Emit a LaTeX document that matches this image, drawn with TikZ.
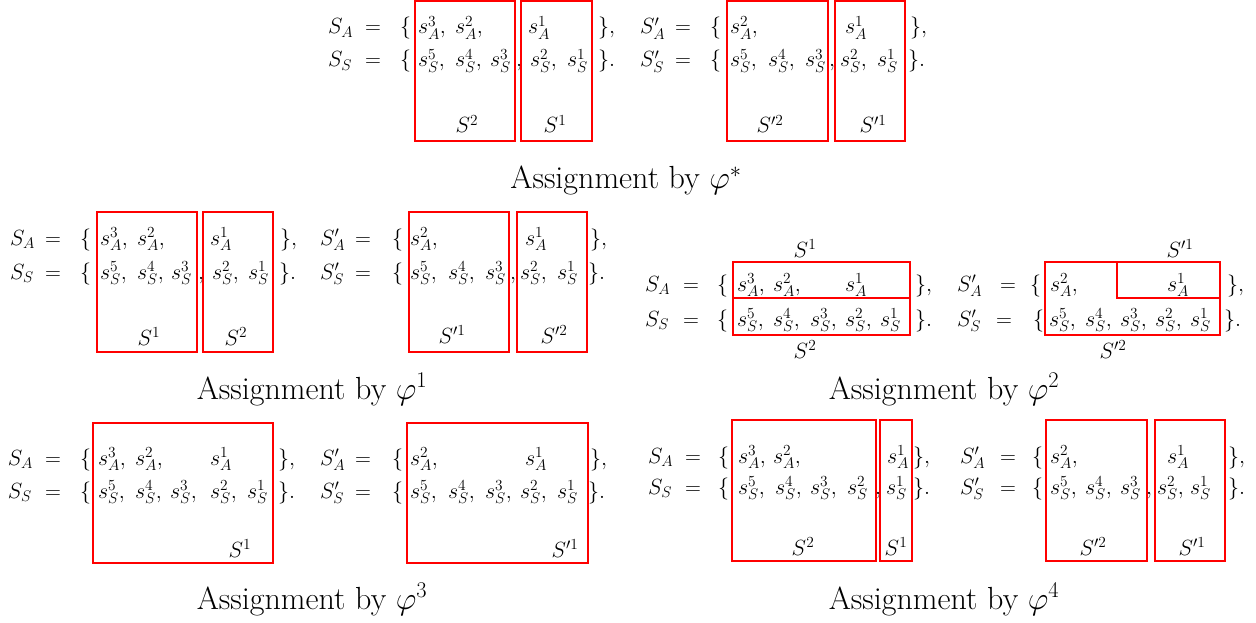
\RequirePackage{fix-cm}
\documentclass[tikz,border=0pt]{standalone}
\begin{document}
\begin{tikzpicture}[x=1pt,y=-1pt,
  txt/.style={anchor=base west,inner sep=0pt,outer sep=0pt,font=\fontsize{22}{26}\selectfont},
  lab/.style={anchor=base,inner sep=0pt,outer sep=0pt,font=\fontsize{22}{26}\selectfont},
  captxt/.style={anchor=base,inner sep=0pt,outer sep=0pt,font=\fontsize{32}{38}\selectfont},
  redbox/.style={draw=red,line width=2pt}]
\newcommand\myE[4]{\node[txt] (#1) at (#2,#3) {$#4$};}
\newcommand\myL[4]{\node[lab] (#1) at (#2,#3) {$#4$};}
\useasboundingbox (0,0) rectangle (1256,623);
% ================= phi* =================
\myE{aLA}{328}{34}{S_A} \myE{aEA}{365}{34}{=} \myE{aOA}{400}{34}{\{}
\myE{aA3}{418}{34}{s_A^3,} \myE{aA2}{455}{34}{s_A^2,} \myE{aA1}{528}{34}{s_A^1} \myE{aCA}{598}{34}{\},}
\myE{aLS}{328}{67}{S_S} \myE{aES}{365}{67}{=} \myE{aOS}{400}{67}{\{}
\myE{aS5}{418}{67}{s_S^5,} \myE{aS4}{455}{67}{s_S^4,} \myE{aS3}{490}{67}{s_S^3} \myE{aK}{516}{67}{,}
\myE{aS2}{530}{67}{s_S^2,} \myE{aS1}{567}{67}{s_S^1} \myE{aCS}{598}{67}{\}.}
\draw[redbox] (415,1) rectangle (515,141);
\draw[redbox] (521,1) rectangle (592,141);
\myL{aT2}{467}{133}{S^2} \myL{aT1}{555}{133}{S^1}
\myE{bLA}{640}{34}{S'_A} \myE{bEA}{675}{34}{=} \myE{bOA}{710}{34}{\{}
\myE{bA2}{730}{34}{s_A^2,} \myE{bA1}{845}{34}{s_A^1} \myE{bCA}{910}{34}{\},}
\myE{bLS}{640}{67}{S'_S} \myE{bES}{675}{67}{=} \myE{bOS}{710}{67}{\{}
\myE{bS5}{730}{67}{s_S^5,} \myE{bS4}{768}{67}{s_S^4,} \myE{bS3}{805}{67}{s_S^3} \myE{bK}{829}{67}{,}
\myE{bS2}{840}{67}{s_S^2,} \myE{bS1}{877}{67}{s_S^1} \myE{bCS}{908}{67}{\}.}
\draw[redbox] (727,1) rectangle (828,141);
\draw[redbox] (835,1) rectangle (905,141);
\myL{bT2}{770}{133}{S'^2} \myL{bT1}{873}{133}{S'^1}
\node[captxt] (capa) at (626,189) {Assignment by $\varphi^*$};
% ================= phi1 =================
\myE{cLA}{10}{245}{S_A} \myE{cEA}{45}{245}{=} \myE{cOA}{80}{245}{\{}
\myE{cA3}{100}{245}{s_A^3,} \myE{cA2}{137}{245}{s_A^2,} \myE{cA1}{210}{245}{s_A^1} \myE{cCA}{280}{245}{\},}
\myE{cLS}{10}{279}{S_S} \myE{cES}{45}{279}{=} \myE{cOS}{80}{279}{\{}
\myE{cS5}{100}{279}{s_S^5,} \myE{cS4}{137}{279}{s_S^4,} \myE{cS3}{171}{279}{s_S^3} \myE{cK}{198}{279}{,}
\myE{cS2}{212}{279}{s_S^2,} \myE{cS1}{248}{279}{s_S^1} \myE{cCS}{279}{279}{\}.}
\draw[redbox] (97,212) rectangle (197,352);
\draw[redbox] (203,212) rectangle (273,352);
\myL{cT1}{149}{345}{S^1} \myL{cT2}{236}{345}{S^2}
\myE{dLA}{320}{245}{S'_A} \myE{dEA}{355}{245}{=} \myE{dOA}{392}{245}{\{}
\myE{dA2}{410}{245}{s_A^2,} \myE{dA1}{525}{245}{s_A^1} \myE{dCA}{590}{245}{\},}
\myE{dLS}{320}{279}{S'_S} \myE{dES}{355}{279}{=} \myE{dOS}{392}{279}{\{}
\myE{dS5}{410}{279}{s_S^5,} \myE{dS4}{448}{279}{s_S^4,} \myE{dS3}{485}{279}{s_S^3} \myE{dK}{510}{279}{,}
\myE{dS2}{520}{279}{s_S^2,} \myE{dS1}{557}{279}{s_S^1} \myE{dCS}{588}{279}{\}.}
\draw[redbox] (409,212) rectangle (509,352);
\draw[redbox] (517,212) rectangle (587,352);
\myL{dT1}{452}{343}{S'^1} \myL{dT2}{554}{343}{S'^2}
\node[captxt] (capc) at (312,399) {Assignment by $\varphi^1$};
% ================= phi2 =================
\myE{eLA}{645}{291}{S_A} \myE{eEA}{683}{291}{=} \myE{eOA}{717}{291}{\{}
\myE{eA3}{737}{291}{s_A^3,} \myE{eA2}{773}{291}{s_A^2,} \myE{eA1}{845}{291}{s_A^1} \myE{eCA}{915}{291}{\},}
\myE{eLS}{645}{326}{S_S} \myE{eES}{683}{326}{=} \myE{eOS}{717}{326}{\{}
\myE{eS5}{737}{326}{s_S^5,} \myE{eS4}{773}{326}{s_S^4,} \myE{eS3}{810}{326}{s_S^3,}
\myE{eS2}{845}{326}{s_S^2,} \myE{eS1}{880}{326}{s_S^1} \myE{eCS}{915}{326}{\}.}
\draw[redbox] (733,262) rectangle (910,298);
\draw[redbox] (733,298) rectangle (910,335);
\myL{eT1}{805}{257}{S^1} \myL{eT2}{805}{358}{S^2}
\myE{fLA}{957}{291}{S'_A} \myE{fEA}{1000}{291}{=} \myE{fOA}{1030}{291}{\{}
\myE{fA2}{1050}{291}{s_A^2,} \myE{fA1}{1167}{291}{s_A^1} \myE{fCA}{1227}{291}{\},}
\myE{fLS}{957}{326}{S'_S} \myE{fES}{996}{326}{=} \myE{fOS}{1033}{326}{\{}
\myE{fS5}{1049}{326}{s_S^5,} \myE{fS4}{1085}{326}{s_S^4,} \myE{fS3}{1120}{326}{s_S^3,}
\myE{fS2}{1155}{326}{s_S^2,} \myE{fS1}{1190}{326}{s_S^1} \myE{fCS}{1224}{326}{\}.}
\draw[redbox] (1045,262) rectangle (1220,335);
\draw[redbox] (1117,262) rectangle (1220,298);
\myL{fT1}{1180}{257}{S'^1} \myL{fT2}{1113}{358}{S'^2}
\node[captxt] (cape) at (944,399) {Assignment by $\varphi^2$};
% ================= phi3 =================
\myE{gLA}{8}{465}{S_A} \myE{gEA}{45}{465}{=} \myE{gOA}{80}{465}{\{}
\myE{gA3}{98}{465}{s_A^3,} \myE{gA2}{135}{465}{s_A^2,} \myE{gA1}{210}{465}{s_A^1} \myE{gCA}{278}{465}{\},}
\myE{gLS}{8}{498}{S_S} \myE{gES}{45}{498}{=} \myE{gOS}{80}{498}{\{}
\myE{gS5}{98}{498}{s_S^5,} \myE{gS4}{135}{498}{s_S^4,} \myE{gS3}{170}{498}{s_S^3,}
\myE{gS2}{210}{498}{s_S^2,} \myE{gS1}{247}{498}{s_S^1} \myE{gCS}{278}{498}{\}.}
\draw[redbox] (93,423) rectangle (273,563);
\myL{gT1}{240}{557}{S^1}
\myE{hLA}{320}{465}{S'_A} \myE{hEA}{355}{465}{=} \myE{hOA}{392}{465}{\{}
\myE{hA2}{410}{465}{s_A^2,} \myE{hA1}{525}{465}{s_A^1} \myE{hCA}{590}{465}{\},}
\myE{hLS}{320}{498}{S'_S} \myE{hES}{355}{498}{=} \myE{hOS}{392}{498}{\{}
\myE{hS5}{410}{498}{s_S^5,} \myE{hS4}{448}{498}{s_S^4,} \myE{hS3}{485}{498}{s_S^3,}
\myE{hS2}{520}{498}{s_S^2,} \myE{hS1}{557}{498}{s_S^1} \myE{hCS}{588}{498}{\}.}
\draw[redbox] (407,423) rectangle (588,563);
\myL{hT1}{565}{557}{S'^1}
\node[captxt] (capg) at (312,609) {Assignment by $\varphi^3$};
% ================= phi4 =================
\myE{iLA}{648}{463}{S_A} \myE{iEA}{685}{463}{=} \myE{iOA}{718}{463}{\{}
\myE{iA3}{738}{463}{s_A^3,} \myE{iA2}{773}{463}{s_A^2,} \myE{iA1}{887}{463}{s_A^1} \myE{iCA}{913}{463}{\},}
\myE{iLS}{648}{494}{S_S} \myE{iES}{685}{494}{=} \myE{iOS}{718}{494}{\{}
\myE{iS5}{738}{494}{s_S^5,} \myE{iS4}{775}{494}{s_S^4,} \myE{iS3}{810}{494}{s_S^3,}
\myE{iS2}{847}{494}{s_S^2} \myE{iK}{875}{494}{,} \myE{iS1}{886}{494}{s_S^1} \myE{iCS}{913}{494}{\}.}
\draw[redbox] (732,420) rectangle (876,561);
\draw[redbox] (880,420) rectangle (912,561);
\myL{iT2}{803}{555}{S^2} \myL{iT1}{896}{555}{S^1}
\myE{jLA}{960}{463}{S'_A} \myE{jEA}{1000}{463}{=} \myE{jOA}{1032}{463}{\{}
\myE{jA2}{1050}{463}{s_A^2,} \myE{jA1}{1167}{463}{s_A^1} \myE{jCA}{1228}{463}{\},}
\myE{jLS}{960}{494}{S'_S} \myE{jES}{1000}{494}{=} \myE{jOS}{1032}{494}{\{}
\myE{jS5}{1050}{494}{s_S^5,} \myE{jS4}{1085}{494}{s_S^4,} \myE{jS3}{1120}{494}{s_S^3} \myE{jK}{1146}{494}{,}
\myE{jS2}{1157}{494}{s_S^2,} \myE{jS1}{1190}{494}{s_S^1} \myE{jCS}{1228}{494}{\}.}
\draw[redbox] (1046,420) rectangle (1147,561);
\draw[redbox] (1155,420) rectangle (1225,561);
\myL{jT2}{1093}{555}{S'^2} \myL{jT1}{1192}{555}{S'^1}
\node[captxt] (capi) at (944,609) {Assignment by $\varphi^4$};
\end{tikzpicture}
\end{document}
